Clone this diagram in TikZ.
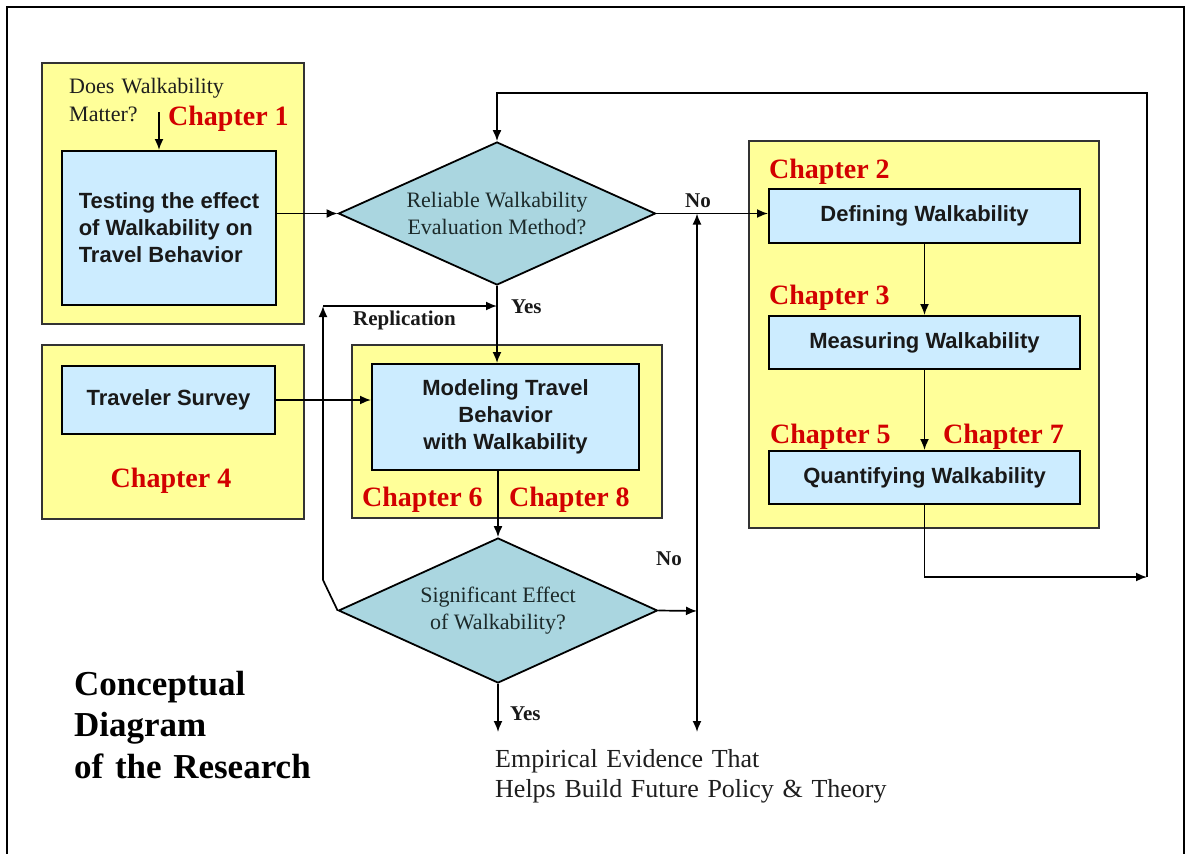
\documentclass[tikz,border=0pt]{standalone}
\usepackage{fontspec}
\setmainfont{Liberation Serif}
\newfontfamily\arialfont{Liberation Sans}
\usetikzlibrary{arrows.meta,shapes.geometric,calc}
\definecolor{yellowfill}{RGB}{255,255,153}
\definecolor{bluefill}{RGB}{204,236,255}
\definecolor{diafill}{RGB}{170,214,224}
\definecolor{chred}{RGB}{210,0,0}
\definecolor{diatext}{RGB}{28,42,42}
\definecolor{graytext}{RGB}{30,30,30}
\begin{document}
\begin{tikzpicture}[x=1pt,y=-1pt,
  yellowbox/.style={rectangle, draw=black!80, line width=2pt, fill=yellowfill, inner sep=0pt},
  bluebox/.style={rectangle, draw=black, line width=2pt, fill=bluefill, inner sep=0pt,
    font=\arialfont\bfseries\fontsize{22}{27}\selectfont, text=black!90},
  decision/.style={diamond, shape aspect=2.2, draw=black, line width=1.8pt, fill=diafill,
    inner sep=0pt, font=\fontsize{22}{27}\selectfont, text=diatext, align=center},
  chap/.style={font=\bfseries\fontsize{28}{30}\selectfont, text=chred, inner sep=0pt},
  lbl/.style={font=\bfseries\fontsize{21}{24}\selectfont, inner sep=0pt, text=black!90},
  conn/.style={line width=1.7pt, -{Latex[length=11pt,width=9pt]}},
  wire/.style={line width=1.7pt}
]
\fill[white] (0,0) rectangle (1186,854);
\useasboundingbox (0,0) rectangle (1186,854);

% yellow group boxes
\node[yellowbox, minimum width=262pt, minimum height=261pt] (Y1) at (173,193.5) {};
\node[yellowbox, minimum width=262pt, minimum height=174pt] (Y4) at (173,431.5) {};
\node[yellowbox, minimum width=310pt, minimum height=173pt] (Y68) at (507,431.5) {};
\node[yellowbox, minimum width=350pt, minimum height=387pt] (YR) at (924,334.5) {};

% blue process boxes
\node[bluebox, minimum width=214pt, minimum height=154pt, align=left] (B1) at (169,228)
  {Testing the effect\\of Walkability on\\Travel Behavior};
\node[bluebox, minimum width=213pt, minimum height=68pt] (B4) at (168.5,400) {Traveler Survey};
\node[bluebox, minimum width=267pt, minimum height=106pt, align=center] (BM) at (505.5,417)
  {Modeling Travel\\Behavior\\with Walkability};
\node[bluebox, minimum width=311pt, minimum height=54pt] (BD) at (924.5,216) {Defining Walkability};
\node[bluebox, minimum width=311pt, minimum height=53pt] (BMe) at (924.5,342.5) {Measuring Walkability};
\node[bluebox, minimum width=311pt, minimum height=53pt] (BQ) at (924.5,477.5) {Quantifying Walkability};

% decisions
\node[decision, minimum width=317pt, minimum height=143pt] (D1) at (497,213.5)
  {Reliable Walkability\\Evaluation Method?};
\node[decision, minimum width=319pt, minimum height=145pt] (D2) at (498,610.5)
  {Significant Effect\\of Walkability?};

% texts
\node[anchor=base west, inner sep=0pt, text width=200pt, align=left,
  font=\fontsize{22}{28}\selectfont, text=graytext] (dwm) at (69,93) {Does Walkability\\Matter?};
\node[chap, anchor=base west] (c1) at (168,125) {Chapter 1};
\node[chap, anchor=base west] (c2) at (769,178) {Chapter 2};
\node[chap, anchor=base west] (c3) at (769,304) {Chapter 3};
\node[chap, anchor=base west] (c5) at (770,443) {Chapter 5};
\node[chap, anchor=base west] (c7) at (943,443) {Chapter 7};
\node[chap, anchor=base] (c4) at (171,487) {Chapter 4};
\node[chap, anchor=base west] (c6) at (362,506) {Chapter 6};
\node[chap, anchor=base west] (c8) at (509,506) {Chapter 8};

\node[lbl, anchor=base west] (no1) at (685,207) {No};
\node[lbl, anchor=base west] (yes1) at (511,313) {Yes};
\node[lbl, anchor=base west] (rep) at (353,325) {Replication};
\node[lbl, anchor=base west] (no2) at (656,565) {No};
\node[lbl, anchor=base west] (yes2) at (510,720) {Yes};

\node[anchor=base west, inner sep=0pt, text width=420pt, align=left,
  font=\fontsize{26}{30}\selectfont, text=graytext] (emp) at (495,767)
  {Empirical Evidence That\\Helps Build Future Policy \& Theory};
\node[anchor=base west, inner sep=0pt, text width=300pt, align=left,
  font=\bfseries\fontsize{35}{41.5}\selectfont, text=black] (title) at (74,695)
  {Conceptual\\Diagram\\of the Research};

% coordinates
\coordinate (dwmArrow) at (159,112);
\coordinate (J) at (697,611);
\coordinate (Jend) at (697,732);
\coordinate (LA) at (1147,577);
\coordinate (LB) at (1147,93);
\coordinate (R1) at (323,580);
\coordinate (R2) at (323,306);

% connectors
\draw[conn] (dwmArrow) -- (dwmArrow |- B1.north);
\draw[conn] (B1.east |- D1.west) -- (D1.west);
\draw[conn] (D1.east) -- (BD.west |- D1.east);
\draw[conn] (BD.south) -- (BMe.north);
\draw[conn] (BMe.south) -- (BQ.north);
\draw[conn] (BQ.south) |- (LA);
\draw[conn] (LA) -- (LB) -| (D1.north);
\draw[conn] (D1.south) -- (D1.south |- BM.north);
\draw[conn] (B4.east) -- (B4.east -| BM.west);
\draw[conn] (BM.south -| D2.north) -- (D2.north);
\draw[conn] (D2.south) -- (D2.south |- Jend);
\draw[conn] (D2.east) -- (J);
\draw[conn] (J) -- (J |- D1.east);
\draw[conn] (J) -- (Jend);
\draw[wire] (D2.west) -- (R1);
\draw[conn] (R1) -- (R2);
\draw[conn] (R2) -- (R2 -| D1.south);

% outer frame
\draw[line width=2.5pt] (7,854) -- (7,7) -- (1184,7) -- (1184,854);
\end{tikzpicture}
\end{document}
